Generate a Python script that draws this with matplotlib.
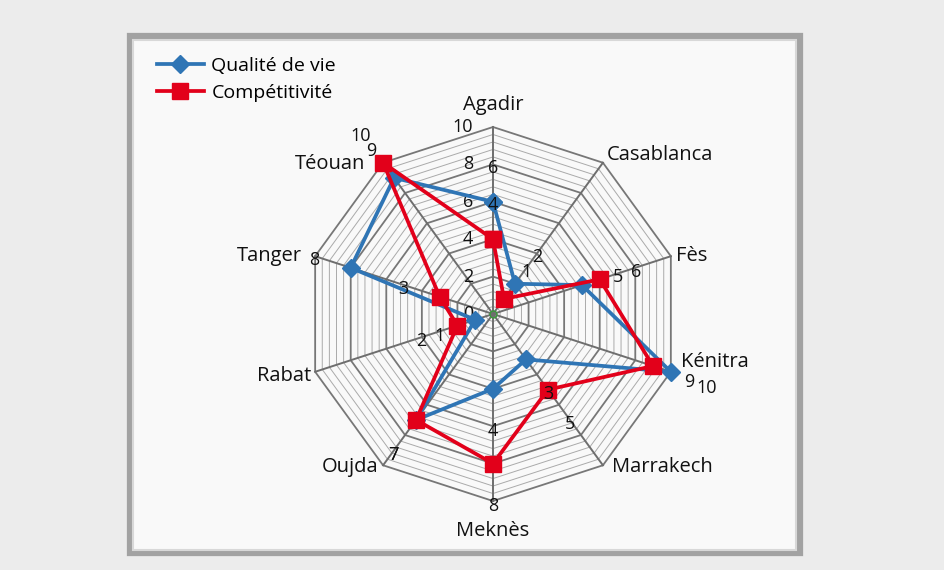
import numpy as np
import matplotlib
matplotlib.use('Agg')
import matplotlib.pyplot as plt
from matplotlib.patches import Rectangle
from matplotlib.lines import Line2D

# ---------------- data ----------------
categories = ['Agadir', 'Casablanca', 'Fès', 'Kénitra', 'Marrakech',
              'Meknès', 'Oujda', 'Rabat', 'Tanger', 'Téouan']
qualite_de_vie = [6, 2, 5, 10, 3, 4, 7, 1, 8, 9]
competitivite = [4, 1, 6, 9, 5, 8, 7, 2, 3, 10]
series_names = ['Qualité de vie', 'Compétitivité']
r_ticks = [0, 2, 4, 6, 8, 10]
r_max = 10
minor_step = 0.4

# ---------------- style ----------------
plt.rcParams['font.family'] = ['Open Sans', 'DejaVu Sans']
BLUE = '#2f75b5'
RED = '#e2001a'
W, H = 945, 570
PT = 0.72  # points per pixel at 100 dpi

fig = plt.figure(figsize=(W / 100, H / 100), dpi=100)
fig.patch.set_facecolor('#ececec')

# framed panel
fig.patches.append(Rectangle((130 / W, 1 - 553 / H), 670 / W, 517 / H,
                             transform=fig.transFigure, facecolor='#f9f9f9',
                             edgecolor='#a2a2a2', lw=4.5, zorder=-2))
fig.patches.append(Rectangle((133.5 / W, 1 - 549.5 / H), 663 / W, 510 / H,
                             transform=fig.transFigure, facecolor='none',
                             edgecolor='#d8d8d8', lw=1.5, zorder=-1))

cx, cy, R = 493, 314, 187
ax = fig.add_axes([(cx - R) / W, (H - cy - R) / H, 2 * R / W, 2 * R / H],
                  projection='polar')
ax.set_zorder(2)
ax.set_theta_offset(np.pi / 2)
ax.set_theta_direction(-1)
ax.set_ylim(0, r_max)
ax.axis('off')

n = len(categories)
theta = np.arange(n) * 2 * np.pi / n
theta_c = np.append(theta, theta[0])

# polygon grid
levels = np.arange(minor_step, r_max + 1e-9, minor_step)
for r in levels:
    major = abs(r / 2 - round(r / 2)) < 1e-6
    ax.plot(theta_c, [r] * (n + 1),
            color='#777777' if major else '#aaaaaa',
            lw=1.3 if major else 0.7, zorder=1, clip_on=False)
for t in theta:
    ax.plot([t, t], [0, r_max], color='#6e6e6e', lw=1.4, zorder=2, clip_on=False)

# series
qv = list(qualite_de_vie) + [qualite_de_vie[0]]
cp = list(competitivite) + [competitivite[0]]
ax.plot(theta_c, qv, color=BLUE, lw=2.7, marker='D', ms=9.5,
        zorder=5, clip_on=False)
ax.plot(theta_c, cp, color=RED, lw=2.7, marker='s', ms=11,
        zorder=6, clip_on=False)
ax.plot([0], [0], marker='o', ms=5, mfc='none', mec='#3a9a3a', mew=1,
        zorder=7, clip_on=False)

# data labels (radially outward, slightly lowered)
for i in range(n):
    a = np.pi / 2 - theta[i]
    for vals in (qualite_de_vie, competitivite):
        v = vals[i]
        d = 38 * PT
        ax.annotate(str(v), xy=(theta[i], v),
                    xytext=(np.cos(a) * d, np.sin(a) * d - 4 * PT),
                    textcoords='offset points', ha='center', va='center',
                    fontsize=13, color='#111111', zorder=8,
                    annotation_clip=False)

# radial tick labels along first axis
for r in r_ticks:
    ax.annotate(str(r), xy=(0, r), xytext=(-20 * PT, 0),
                textcoords='offset points', ha='right', va='center',
                fontsize=13, color='#111111', annotation_clip=False)

# category labels
label_offsets = [(0, 22), (4, 8), (5, 0), (10, 10), (9, -2),
                 (0, -30), (-5, -2), (-4, -4), (-13, 0), (-18, -1)]
for i, name in enumerate(categories):
    a = np.pi / 2 - theta[i]
    c = np.cos(a)
    ha = 'left' if c > 0.1 else ('right' if c < -0.1 else 'center')
    dx, dy = label_offsets[i]
    ax.annotate(name, xy=(theta[i], r_max), xytext=(dx * PT, dy * PT),
                textcoords='offset points', ha=ha, va='center',
                fontsize=14.5, color='#111111', annotation_clip=False)

# legend
handles = [Line2D([], [], color=BLUE, lw=2.7, marker='D', ms=9.5),
           Line2D([], [], color=RED, lw=2.7, marker='s', ms=11)]
fig.legend(handles, series_names, loc='upper left',
           bbox_to_anchor=(157 / W, 1 - 57 / H), frameon=False,
           fontsize=14, handlelength=2.4, handletextpad=0.4,
           labelspacing=0.45, borderaxespad=0, borderpad=0)

fig.savefig('out.png', dpi=100, facecolor=fig.get_facecolor())
